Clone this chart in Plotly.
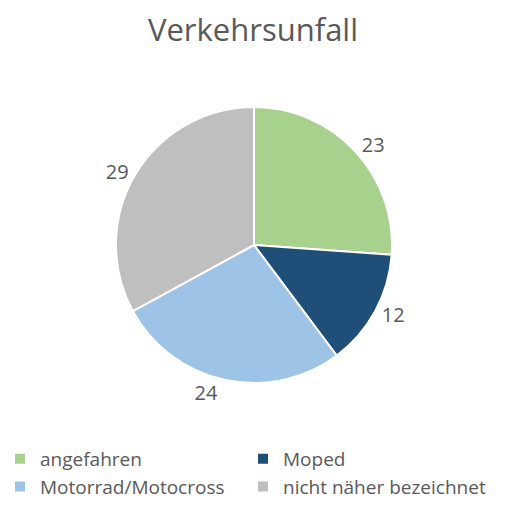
import plotly.graph_objects as go

categories = ["angefahren", "Moped", "Motorrad/Motocross", "nicht näher bezeichnet"]
values = [23, 12, 24, 29]
colors = ["#A9D18E", "#1F4E79", "#9DC3E6", "#BFBFBF"]

FONT = "Open Sans, Noto Sans, sans-serif"
TXT = "#595959"

# The page body has an 8px margin, so the figure is drawn slightly smaller.
W, H = 490, 498

fig = go.Figure(go.Pie(
    labels=categories,
    values=values,
    sort=False,
    direction="clockwise",
    rotation=0,
    marker=dict(colors=colors, line=dict(color="white", width=2)),
    textinfo="value",
    textposition="outside",
    textfont=dict(family=FONT, size=20, color=TXT),
    domain=dict(x=[108/W, 384/W], y=[(H-375)/H, (H-99)/H]),
    hoverinfo="label+value",
))

fig.update_layout(
    width=W, height=H,
    margin=dict(l=0, r=0, t=0, b=0),
    paper_bgcolor="white",
    plot_bgcolor="white",
    title=dict(text="Verkehrsunfall", x=0.5, xanchor="center", y=1-22/H, yanchor="middle",
               font=dict(family=FONT, size=31, color=TXT)),
    legend=dict(orientation="h", x=0.0, xanchor="left", y=0, yanchor="bottom",
                entrywidth=206, entrywidthmode="pixels", indentation=-8,
                font=dict(family=FONT, size=19, color=TXT),
                itemsizing="constant", tracegroupgap=0),
    showlegend=True,
)

fig.write_html("out.html")
